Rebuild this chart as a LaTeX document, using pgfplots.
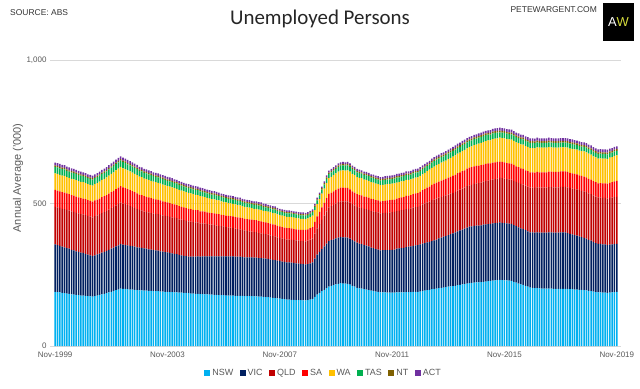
\documentclass[border=0pt]{standalone}
\usepackage{fontspec}
\setmainfont{Liberation Sans}
\newfontfamily\titlefont{Carlito}
\usepackage{pgfplots}
\pgfplotsset{compat=1.18}
\usepackage{pgfplotstable}
\definecolor{cNSW}{HTML}{00B0F0}
\definecolor{cVIC}{HTML}{002060}
\definecolor{cQLD}{HTML}{C00000}
\definecolor{cSA}{HTML}{FF0000}
\definecolor{cWA}{HTML}{FFC000}
\definecolor{cTAS}{HTML}{00B050}
\definecolor{cNT}{HTML}{7F6000}
\definecolor{cACT}{HTML}{7030A0}
\definecolor{txtgray}{HTML}{595959}
\definecolor{logoyel}{HTML}{D6DC3C}

\pgfplotstableread{
x nsw vic qld sa wa tas nt act
0 190 166 132 59 58 23 5 10
1 189 165 132 59 58 23 5 10
2 188 163 133 58 58 23 5 10
3 186 162 133 58 58 23 5 10
4 185 161 134 58 58 23 5 10
5 184 159 134 58 57 22 5 10
6 183 158 134 57 57 22 5 10
7 181 156 135 57 57 22 5 10
8 180 155 135 57 57 22 5 10
9 179 153 135 57 57 22 5 9
10 178 152 135 56 57 22 5 9
11 177 150 135 56 57 22 5 9
12 177 149 135 56 57 21 5 9
13 176 147 136 56 56 21 5 9
14 175 145 136 55 56 21 5 9
15 174 144 136 55 56 21 5 9
16 173 142 136 55 56 21 5 9
17 175 143 137 55 57 21 5 9
18 177 144 137 55 58 21 5 9
19 179 145 138 55 59 21 5 9
20 181 146 139 56 60 21 5 9
21 183 147 139 56 61 21 5 10
22 185 148 140 56 62 21 5 10
23 188 149 141 56 63 22 5 10
24 190 151 142 56 64 22 5 10
25 193 152 143 56 65 22 5 10
26 196 153 144 57 66 22 5 10
27 198 155 145 57 67 22 5 10
28 201 156 146 57 68 22 5 10
29 200 155 144 57 67 22 5 10
30 200 154 143 56 67 22 5 10
31 199 154 141 56 66 21 5 10
32 198 153 139 56 66 21 5 10
33 198 152 138 55 65 21 5 10
34 197 151 136 55 64 21 5 10
35 196 150 134 55 64 21 5 10
36 195 150 132 54 63 20 5 9
37 195 149 131 54 63 20 5 9
38 194 148 129 54 62 20 5 9
39 194 147 129 53 62 20 5 9
40 193 146 129 53 61 20 5 9
41 193 145 128 52 61 20 5 9
42 192 144 128 52 60 19 5 9
43 192 143 128 51 60 19 5 9
44 192 142 128 50 60 19 5 9
45 191 141 128 50 59 19 5 9
46 191 140 127 49 59 19 5 9
47 190 139 127 49 58 19 5 9
48 190 138 127 48 58 18 5 9
49 189 137 127 48 58 18 5 9
50 189 136 126 47 58 18 5 9
51 188 135 126 47 57 18 5 8
52 188 134 126 46 57 18 5 8
53 187 132 125 46 57 18 5 8
54 187 131 125 45 57 17 5 8
55 186 130 125 45 56 17 5 8
56 186 129 124 44 56 17 5 8
57 185 128 124 44 56 17 5 8
58 184 129 123 44 55 17 5 8
59 184 129 121 43 55 17 5 8
60 183 130 120 43 54 17 5 8
61 183 131 119 43 53 17 5 8
62 182 131 117 42 53 17 5 8
63 182 132 116 42 52 16 5 8
64 181 133 115 42 51 16 5 8
65 181 133 113 41 51 16 5 8
66 180 134 112 41 50 16 5 8
67 180 134 111 41 49 16 5 8
68 179 135 110 41 49 16 5 8
69 179 135 108 41 48 16 5 8
70 178 136 107 41 48 15 5 8
71 178 136 106 40 47 15 5 7
72 178 136 105 40 46 15 5 7
73 177 137 103 40 46 15 5 7
74 177 137 102 40 45 15 5 7
75 177 137 101 40 45 15 5 7
76 177 137 100 40 44 15 5 7
77 176 137 98 41 44 15 5 7
78 176 137 97 41 43 15 5 7
79 176 137 96 41 43 15 5 7
80 176 136 95 41 42 14 5 7
81 175 136 94 41 42 14 5 7
82 175 136 92 42 41 14 5 7
83 175 136 91 42 41 14 5 7
84 175 136 90 42 40 14 5 7
85 174 136 89 42 40 14 5 7
86 174 136 89 42 40 14 5 7
87 173 135 88 42 40 14 5 7
88 173 135 87 42 40 14 5 7
89 172 135 86 41 40 13 5 7
90 171 135 86 41 40 13 5 7
91 171 134 85 41 40 13 5 6
92 170 134 84 41 40 13 5 6
93 169 133 83 41 40 13 5 6
94 168 133 83 41 40 13 5 6
95 167 132 82 40 40 12 5 6
96 166 132 81 40 40 12 4 6
97 165 131 81 40 40 12 4 6
98 164 131 80 40 40 12 4 6
99 163 130 80 40 40 12 4 6
100 163 130 80 40 40 12 4 6
101 162 130 80 40 40 12 4 6
102 162 129 80 39 40 12 4 6
103 161 129 80 39 40 12 4 6
104 161 128 80 39 39 12 4 6
105 161 127 80 39 39 12 4 6
106 160 127 81 39 39 12 4 6
107 160 126 81 40 38 12 4 6
108 161 126 82 40 38 12 4 6
109 163 127 83 40 39 12 4 6
110 165 128 84 40 40 12 4 6
111 172 134 88 41 41 12 4 6
112 180 140 92 42 43 13 4 6
113 186 144 97 43 45 13 4 6
114 192 148 102 44 48 14 5 6
115 197 152 108 45 50 14 5 6
116 203 156 113 46 53 15 5 7
117 208 160 118 47 55 15 5 7
118 211 160 119 47 56 16 5 7
119 213 161 121 47 57 16 5 7
120 216 161 122 48 58 16 5 7
121 218 162 124 48 59 17 5 7
122 220 162 125 48 60 17 5 7
123 219 162 126 48 61 17 5 7
124 219 162 126 47 61 17 5 7
125 218 162 127 47 62 17 5 7
126 215 161 127 46 62 17 5 7
127 211 160 126 45 61 17 5 7
128 208 159 126 45 61 17 5 7
129 204 158 126 44 60 17 5 7
130 202 157 126 44 60 17 5 7
131 201 156 127 44 60 16 5 7
132 199 155 127 43 59 16 5 7
133 198 154 128 43 59 16 5 7
134 196 153 128 43 59 16 5 7
135 194 151 128 43 58 16 5 7
136 193 150 129 43 58 16 5 7
137 191 149 129 42 58 16 5 7
138 190 148 130 42 57 16 5 7
139 188 147 130 42 57 16 5 7
140 188 148 130 42 57 16 5 7
141 188 148 131 42 57 16 5 8
142 187 149 131 43 57 16 5 8
143 187 149 132 43 57 16 5 8
144 187 150 132 43 57 16 5 8
145 187 151 132 43 57 17 5 8
146 188 153 132 44 56 17 5 8
147 188 154 132 44 56 17 5 8
148 188 155 133 45 56 17 5 8
149 188 156 133 45 56 17 5 8
150 189 158 133 46 56 17 5 8
151 189 159 133 46 55 17 5 8
152 189 160 133 47 55 17 5 8
153 190 161 134 47 55 18 5 8
154 190 163 134 48 55 18 5 8
155 190 164 134 48 55 18 5 8
156 191 165 135 49 56 18 5 8
157 193 166 137 50 56 18 5 8
158 194 167 138 51 57 18 5 8
159 196 167 140 52 58 18 5 8
160 197 168 141 53 59 18 5 8
161 199 169 143 54 59 19 6 8
162 200 170 144 55 60 19 6 8
163 201 172 144 56 61 19 6 8
164 203 174 143 56 62 19 6 8
165 204 176 143 57 63 19 6 8
166 205 178 143 57 63 19 6 8
167 206 179 143 58 64 19 6 8
168 208 181 142 59 65 19 6 8
169 209 183 142 59 66 20 6 8
170 210 185 142 60 67 20 6 8
171 211 187 142 60 68 20 6 9
172 213 189 143 61 68 20 6 9
173 214 191 143 61 69 20 6 9
174 216 192 144 61 70 21 6 9
175 217 194 144 61 71 21 6 9
176 219 196 145 62 71 21 6 9
177 220 198 145 62 72 21 6 9
178 221 198 146 62 73 21 6 9
179 222 199 147 62 74 21 6 9
180 223 199 148 61 75 21 6 9
181 223 199 149 61 77 21 6 9
182 224 199 150 61 78 21 6 9
183 225 200 151 60 79 21 6 9
184 226 200 152 60 80 21 6 9
185 227 200 153 60 81 20 6 9
186 228 200 153 59 81 20 6 10
187 229 201 154 59 82 20 6 10
188 230 201 155 58 83 20 6 10
189 231 201 155 58 83 20 6 10
190 232 201 156 57 84 19 6 10
191 231 201 156 57 84 19 6 10
192 230 201 156 57 84 19 6 10
193 230 200 155 56 84 19 6 10
194 229 200 155 56 84 19 6 10
195 228 200 155 56 84 19 6 10
196 225 199 155 56 84 18 6 10
197 222 198 155 55 84 18 6 10
198 219 197 156 55 84 18 6 10
199 216 196 156 55 84 18 6 10
200 214 196 156 55 85 18 6 10
201 211 195 156 54 85 18 6 10
202 208 194 157 54 85 18 6 10
203 205 193 157 54 85 18 6 10
204 204 194 157 54 85 18 6 10
205 203 194 157 54 85 18 6 10
206 203 195 158 54 86 18 6 10
207 202 195 158 54 86 17 6 10
208 201 196 158 54 86 17 6 10
209 201 196 158 54 86 17 6 10
210 201 196 158 54 86 17 6 10
211 201 197 159 54 86 17 6 10
212 201 197 159 54 85 17 6 10
213 200 197 159 54 85 17 6 10
214 200 197 159 54 85 17 6 10
215 200 197 159 54 85 17 6 10
216 200 198 160 54 84 17 6 10
217 200 198 160 54 84 17 6 10
218 200 198 160 54 84 17 6 10
219 200 196 160 54 85 17 6 10
220 199 194 161 53 85 17 6 10
221 199 192 161 53 86 17 6 10
222 198 191 161 53 86 17 6 10
223 198 189 162 53 86 16 6 10
224 197 187 162 52 87 16 6 10
225 197 185 162 52 87 16 6 10
226 196 183 163 52 88 16 6 10
227 195 181 163 52 88 16 6 10
228 193 179 163 51 88 16 6 10
229 192 177 163 51 88 16 6 10
230 191 174 163 50 87 16 6 10
231 189 172 163 50 87 16 6 10
232 188 170 163 49 87 16 6 10
233 188 170 163 50 87 16 6 10
234 187 169 163 51 87 16 6 10
235 187 169 163 51 87 16 6 10
236 186 168 163 52 87 16 6 10
237 187 168 164 53 88 16 6 10
238 188 168 164 54 88 16 6 10
239 189 168 165 55 89 16 6 10
240 190 168 165 56 89 16 6 10
}\datatable

\begin{document}
\begin{tikzpicture}[x=1bp,y=1bp]
\useasboundingbox (0,0) rectangle (640,388);
\begin{axis}[
  at={(50bp,42bp)}, anchor=south west,
  scale only axis, width=571bp, height=285.3bp,
  ybar stacked, bar width=0.66,
  xmin=-2.2, xmax=241.8, ymin=0, ymax=1000,
  xtick={0,48,96,144,192,240},
  xticklabels={Nov-1999,Nov-2003,Nov-2007,Nov-2011,Nov-2015,Nov-2019},
  ytick={0,500,1000}, yticklabels={0,500,{1,000}},
  ymajorgrids, grid style={draw=black!15, line width=0.6bp},
  axis line style={draw=none},
  major tick length=0pt,
  tick label style={font=\fontsize{8}{9}\selectfont, text=txtgray},
  xticklabel style={yshift=-2bp},
  ylabel={Annual Average ('000)},
  ylabel style={at={(axis description cs:-0.056,0.589)}, anchor=center, font=\fontsize{11}{13}\selectfont, text=txtgray},
  legend style={at={(axis description cs:0.479,-0.0946)}, anchor=center, draw=none, fill=none,
    legend columns=-1, font=\fontsize{9}{10}\selectfont, text=txtgray, inner sep=0pt,
    /tikz/every even column/.append style={column sep=4.5bp}},
  legend image code/.code={\fill[#1] (0bp,-3bp) rectangle (6bp,3bp);},
  legend entries={NSW,VIC,QLD,SA,WA,TAS,NT,ACT},
]
\addplot[fill=cNSW, draw=none] table[x=x, y=nsw] {\datatable};
\addplot[fill=cVIC, draw=none] table[x=x, y=vic] {\datatable};
\addplot[fill=cQLD, draw=none] table[x=x, y=qld] {\datatable};
\addplot[fill=cSA, draw=none] table[x=x, y=sa] {\datatable};
\addplot[fill=cWA, draw=none] table[x=x, y=wa] {\datatable};
\addplot[fill=cTAS, draw=none] table[x=x, y=tas] {\datatable};
\addplot[fill=cNT, draw=none] table[x=x, y=nt] {\datatable};
\addplot[fill=cACT, draw=none] table[x=x, y=act] {\datatable};
\end{axis}
\node[anchor=center, font=\titlefont\fontsize{21}{25}\selectfont, text=black!85] at (320,369) {Unemployed Persons};
\node[anchor=west, inner sep=0pt, font=\fontsize{8.5}{10}\selectfont, text=black!80] at (10,375) {SOURCE: ABS};
\node[anchor=east, inner sep=0pt, font=\fontsize{8.5}{10}\selectfont, text=black!80] at (597,378) {PETEWARGENT.COM};
\fill[black] (603,347) rectangle (634,385);
\node[anchor=center, inner sep=0pt, font=\fontsize{13}{15}\selectfont] at (618.5,366) {\textcolor{white}{A}\textcolor{logoyel}{W}};
\end{tikzpicture}
\end{document}
